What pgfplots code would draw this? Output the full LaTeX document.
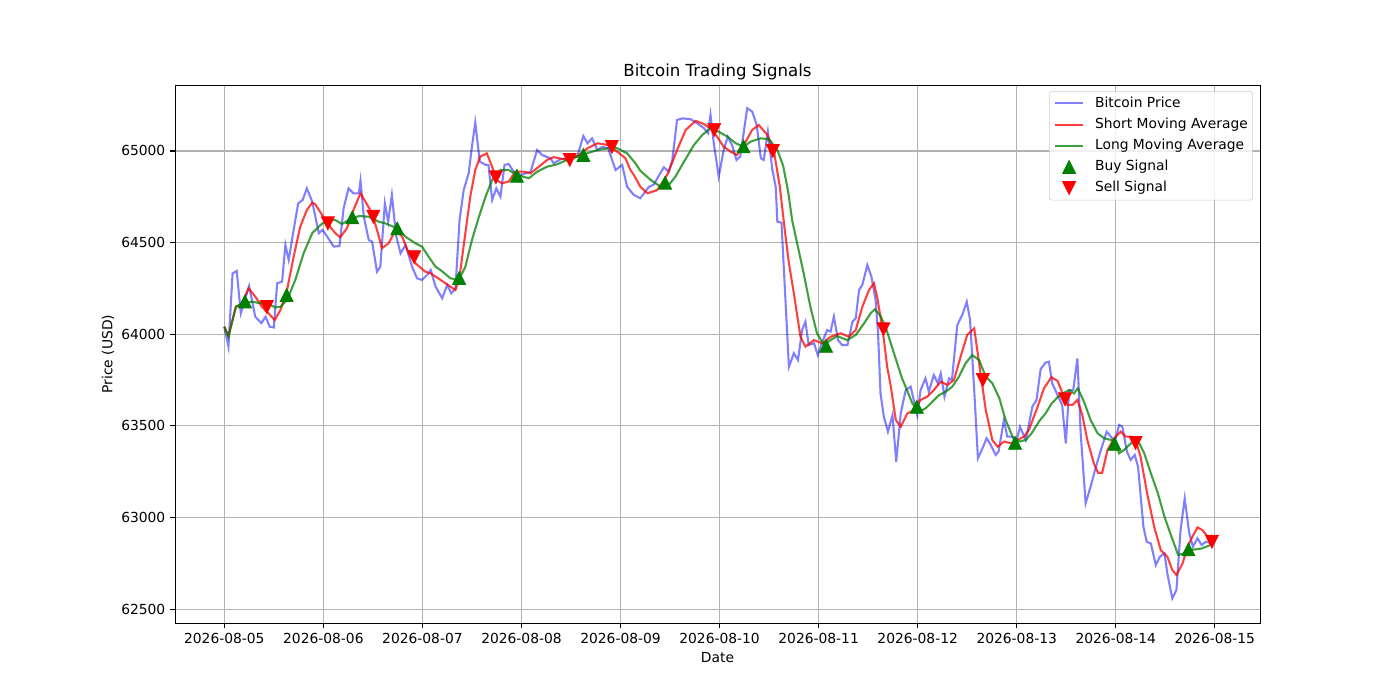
\documentclass[border=0pt]{standalone}
\usepackage{pgfplots}
\pgfplotsset{compat=1.18}
\usepackage{fontspec}
\setmainfont{DejaVu Sans}
\pgfdeclareplotmark{mtriup}{%
  \pgfpathmoveto{\pgfqpoint{0pt}{\pgfplotmarksize}}%
  \pgfpathlineto{\pgfqpoint{-\pgfplotmarksize}{-\pgfplotmarksize}}%
  \pgfpathlineto{\pgfqpoint{\pgfplotmarksize}{-\pgfplotmarksize}}%
  \pgfpathclose\pgfusepathqfillstroke}
\pgfdeclareplotmark{mtridown}{%
  \pgfpathmoveto{\pgfqpoint{0pt}{-\pgfplotmarksize}}%
  \pgfpathlineto{\pgfqpoint{-\pgfplotmarksize}{\pgfplotmarksize}}%
  \pgfpathlineto{\pgfqpoint{\pgfplotmarksize}{\pgfplotmarksize}}%
  \pgfpathclose\pgfusepathqfillstroke}
\definecolor{mplgreen}{RGB}{0,128,0}
\pgfplotsset{
  lineleg/.style={legend image code/.code={\draw[##1] (0pt,0pt) -- (20pt,0pt);}},
  markleg/.style={legend image code/.code={\draw[##1, fill opacity=1, draw opacity=1] plot coordinates {(10pt,0pt)};}},
}
\begin{document}
\begin{tikzpicture}
\useasboundingbox (0,0) rectangle (14in,7in);
\begin{axis}[
  at={(1.75in,0.77in)}, anchor=south west,
  scale only axis, width=10.85in, height=5.38in,
  xmin=-11.95, xmax=250.95, ymin=62424, ymax=65360,
  xtick={0,24,48,72,96,120,144,168,192,216,240},
  xticklabels={2026-08-05,2026-08-06,2026-08-07,2026-08-08,2026-08-09,2026-08-10,2026-08-11,2026-08-12,2026-08-13,2026-08-14,2026-08-15},
  ytick={62500,63000,63500,64000,64500,65000},
  scaled y ticks=false,
  /pgf/number format/.cd, 1000 sep={}, assume math mode=true, /pgfplots/.cd,
  tick align=outside, major tick length=3.5pt,
  every tick/.style={black, line width=0.8pt},
  axis line style={black, line width=0.7pt},
  xtick pos=bottom, ytick pos=left,
  grid=major, major grid style={gray!60, line width=0.8pt},
  ticklabel style={font=\fontsize{10}{12}\selectfont},
  title={Bitcoin Trading Signals},
  title style={font=\fontsize{12}{14}\selectfont, at={(axis description cs:0.5,1)}, anchor=base, yshift=0.3pt},
  xlabel={Date}, ylabel={Price (USD)},
  xlabel style={font=\fontsize{10}{12}\selectfont, at={(axis description cs:0.5,0)}, anchor=center, yshift=-25pt},
  ylabel style={font=\fontsize{10}{12}\selectfont, at={(axis description cs:-0.0618,0.5)}, anchor=center},
  legend style={at={(axis description cs:0.9935,0.9888)}, anchor=north east, draw=gray!40, rounded corners=2pt, fill=white, fill opacity=0.8, text opacity=1, font=\fontsize{10}{12}\selectfont, inner xsep=3.5pt, inner ysep=4pt, row sep=5.8pt, nodes={inner sep=0pt, text height=7.5pt, text depth=2pt}, /tikz/every odd column/.append style={column sep=8pt}},
  legend cell align=left,
]
\addplot[blue, draw opacity=0.5, line width=1.5pt, no markers, lineleg] coordinates {
(0,64041)(1,63932)(2,64332)(3,64345)(4,64114)(6,64263)(7.5,64095)(9,64061)(10,64095)(11,64041)(12,64037)(12.8,64278)(14,64287)(14.8,64487)(15.6,64405)(17.2,64623)(17.9,64714)(19,64733)(20,64796)(21.3,64723)(22.9,64551)(23.8,64569)(25,64530)(26.5,64478)(27.9,64481)(28.9,64687)(30.1,64796)(31.3,64769)(32.6,64769)(33,64838)(33.8,64641)(35,64514)(35.8,64505)(37,64341)(37.8,64368)(38.9,64714)(39.7,64614)(40.6,64760)(41.6,64541)(42.7,64441)(43.9,64487)(45.5,64368)(46.7,64305)(47.9,64296)(49.5,64332)(50,64350)(51.2,64259)(52.8,64196)(54,64269)(55,64223)(56,64250)(57,64623)(58,64787)(59.2,64878)(60,65023)(60.8,65155)(61.9,64942)(63.3,64924)(64,64924)(64.9,64733)(65.9,64796)(66.9,64751)(67.9,64924)(68.9,64929)(70.1,64887)(71.8,64869)(74.2,64887)(75.8,65005)(77,64978)(79,64960)(79.8,64933)(81.5,64955)(83,64960)(85.5,64969)(87,65082)(88,65042)(89.1,65069)(90.4,65005)(91.6,65023)(93,65014)(94.8,64896)(96.4,64924)(97.6,64805)(99.2,64760)(100.8,64742)(102.9,64805)(104,64815)(106.5,64911)(107.7,64887)(108.5,64942)(109.7,65169)(111,65178)(113,65173)(114.6,65151)(116.2,65124)(117.2,65097)(117.8,65197)(118.6,65042)(119.8,64860)(121,65005)(122,65078)(123,65033)(124.1,64951)(125,64969)(126.7,65233)(127.9,65215)(129,65142)(130,64960)(130.7,64951)(131.7,65105)(132.8,64896)(133.6,64805)(134,64614)(135,64609)(135.8,64259)(136.8,63822)(138,63896)(139,63859)(140,64023)(140.8,64068)(141.6,63941)(142.9,63950)(143.8,63886)(144.9,63959)(146.1,64023)(146.9,64014)(147.7,64096)(148.7,63968)(149.7,63941)(151,63941)(152.2,64068)(153,64087)(153.8,64241)(154.6,64269)(155.8,64378)(156.8,64314)(157.8,64187)(158.4,64005)(159,63677)(159.8,63550)(160.8,63468)(161.9,63559)(162.8,63304)(163.9,63568)(165.1,63695)(166.3,63714)(167.9,63559)(168.7,63695)(169.9,63759)(170.7,63686)(171.9,63777)(172.9,63732)(173.6,63786)(174.5,63659)(175.6,63759)(176.3,63750)(177.6,64050)(178.8,64105)(179.9,64177)(180.7,64077)(181.7,63695)(182.6,63323)(183.7,63377)(184.7,63432)(185.5,63405)(186.9,63341)(187.6,63359)(188.9,63532)(189.7,63441)(190.9,63441)(191.8,63404)(192.8,63495)(194.2,63422)(195.8,63605)(196.8,63641)(197.8,63810)(199,63845)(199.8,63850)(200.6,63732)(201.9,63668)(203,63614)(203.9,63404)(204.7,63695)(205.7,63695)(206.7,63868)(207.5,63459)(208.7,63077)(209.9,63168)(211.2,63277)(212.4,63368)(213.8,63468)(214.8,63441)(215.8,63414)(216.8,63505)(217.6,63495)(218.7,63359)(219.6,63314)(220.6,63341)(221.4,63277)(222.7,62949)(223.5,62867)(224.5,62858)(225.7,62740)(226.7,62786)(227.8,62804)(228.5,62694)(229.7,62558)(230.7,62604)(231.7,62931)(232.7,63104)(233.8,62914)(234.7,62840)(235.8,62886)(236.8,62850)(237.9,62868)(239,62859)
};
\addlegendentry{Bitcoin Price}
\addplot[red, draw opacity=0.75, line width=1.5pt, no markers, lineleg] coordinates {
(0,64041)(1,63990)(2.8,64150)(4,64160)(5.9,64250)(7.5,64205)(9.1,64150)(10.7,64114)(12.2,64077)(13.6,64132)(15.2,64241)(16.8,64423)(18.4,64587)(20,64678)(21.3,64718)(22,64710)(23.7,64651)(25.3,64596)(26.9,64551)(28.1,64529)(29.7,64578)(31.3,64678)(33,64769)(34.2,64723)(35.8,64660)(37,64569)(38.2,64469)(39.8,64496)(41.5,64569)(43.1,64532)(44.7,64441)(46.3,64387)(48.7,64341)(50,64332)(52.4,64296)(54.8,64259)(56,64241)(57,64314)(58.4,64551)(59.6,64751)(60.8,64896)(62,64969)(63.6,64987)(64.9,64914)(65.9,64842)(67.3,64824)(68.9,64833)(70.5,64887)(72.5,64887)(74.2,64878)(76.2,64914)(78.2,64951)(79.8,64966)(82.2,64955)(83.8,64951)(85.9,64978)(88,65015)(90.4,65042)(92.8,65033)(95.2,64996)(97.2,64960)(98.4,64896)(99.2,64870)(100.8,64805)(102.5,64769)(104.9,64787)(107.3,64869)(109.7,65005)(111.8,65115)(114.2,65164)(115.8,65151)(117.8,65124)(119.4,65078)(121,65023)(122.7,64996)(124.2,64978)(125.9,65033)(127.9,65115)(129.5,65142)(131.6,65087)(133.2,64995)(134.6,64805)(135.8,64569)(136.8,64387)(138,64223)(139.6,63986)(140.8,63932)(142.9,63968)(144.9,63950)(146.9,63986)(149.3,64005)(151.3,63986)(153,64023)(154.6,64150)(156.2,64241)(157.4,64278)(158.2,64200)(159.6,64010)(160.6,63823)(161.5,63714)(162.7,63532)(163.9,63495)(165.5,63568)(167.1,63586)(168.7,63641)(170.3,63659)(171.9,63695)(173.6,63741)(175.2,63723)(176.8,63750)(178.4,63877)(180,63996)(181.7,64032)(182.9,63841)(184.5,63586)(186.1,63422)(187.4,63386)(188.9,63414)(190.6,63405)(192.2,63423)(193.8,63441)(195,63480)(197,63600)(198.6,63705)(200.4,63765)(201.9,63745)(203.1,63677)(204.3,63614)(205.5,63614)(206.7,63641)(207.9,63559)(209.1,63423)(210.7,63295)(211.7,63244)(212.7,63244)(214,63368)(215.6,63432)(217.2,63468)(218.4,63441)(219.6,63441)(220.8,63423)(222,63332)(223.6,63132)(225.3,62949)(226.9,62822)(228.5,62786)(229.7,62713)(230.7,62686)(232.2,62750)(233.4,62841)(234.6,62896)(235.8,62946)(237,62931)(238.2,62896)(239,62868)
};
\addlegendentry{Short Moving Average}
\addplot[mplgreen, draw opacity=0.75, line width=1.5pt, no markers, lineleg] coordinates {
(0,64041)(1,63986)(2.8,64150)(4.3,64168)(6.7,64177)(9.1,64168)(11.2,64159)(12.4,64146)(13.6,64150)(15.2,64187)(17.2,64296)(19.2,64441)(21.3,64551)(23.3,64596)(24.9,64623)(26.9,64623)(28.5,64601)(30.1,64623)(32.6,64645)(35,64641)(37.4,64614)(39,64605)(41.9,64578)(43.9,64532)(46.3,64496)(47.9,64478)(49.5,64423)(51.2,64368)(52.4,64350)(54.8,64305)(56.8,64296)(58.4,64368)(60,64514)(61.7,64641)(63.3,64751)(64.9,64842)(66.9,64896)(68.9,64896)(70.9,64869)(73.8,64851)(75.8,64887)(78.2,64914)(80.6,64927)(83.1,64951)(85.5,64969)(87.9,64987)(90.4,65005)(92.8,65014)(95.2,65015)(97.6,64987)(99.6,64933)(100.8,64892)(103.3,64842)(105.7,64805)(107.7,64814)(109.3,64860)(111.4,64942)(113.8,65033)(115.8,65087)(117.8,65124)(119.8,65105)(121.9,65078)(123.9,65042)(125.9,65023)(127.5,65051)(130,65069)(132,65064)(134,65005)(135.4,64920)(136.6,64780)(137.6,64620)(138.8,64496)(140.4,64330)(142,64150)(143.6,64005)(145.3,63941)(146.9,63968)(148.5,63990)(150.9,63968)(153,63996)(155,64059)(156.6,64114)(157.6,64136)(159,64100)(160.3,64035)(162.2,63900)(164.2,63760)(165.5,63690)(166.7,63623)(168.3,63577)(169.9,63595)(171.6,63632)(173.2,63668)(174.8,63686)(176.4,63714)(178,63768)(179.6,63841)(181.2,63886)(182.9,63859)(184.5,63768)(186.1,63732)(187.8,63650)(189.3,63532)(191,63441)(192.6,63414)(194.2,63423)(195.6,63459)(197.6,63530)(199,63568)(200.4,63620)(202.5,63670)(204.7,63695)(205.9,63677)(206.8,63705)(208.3,63632)(209.9,63532)(211.6,63459)(213.2,63432)(214.8,63423)(216,63405)(216.8,63350)(218,63368)(219.6,63404)(221.7,63404)(222.9,63350)(224.5,63241)(226.2,63132)(227.8,63004)(229.5,62895)(231.1,62796)(232.8,62805)(234.4,62823)(236.9,62831)(239,62850)
};
\addlegendentry{Long Moving Average}
\addplot[only marks, mark=mtriup, mark size=4.7pt, mplgreen, line width=0.5pt, markleg] coordinates {
(5,64179)(15.1,64214)(31,64638)(41.9,64578)(56.9,64307)(70.9,64864)(87,64978)(106.8,64827)(125.8,65025)(145.8,63937)(167.8,63604)(191.6,63407)(215.7,63402)(233.6,62826)
};
\addlegendentry{Buy Signal}
\addplot[only marks, mark=mtridown, mark size=4.7pt, red, line width=0.5pt, markleg] coordinates {
(10.3,64148)(25.1,64605)(36.1,64641)(46,64420)(65.8,64856)(83.7,64951)(93.9,65022)(118.7,65115)(132.9,65000)(159.7,64027)(183.8,63750)(203.7,63645)(220.8,63406)(239.3,62868)
};
\addlegendentry{Sell Signal}
\end{axis}
\end{tikzpicture}
\end{document}
